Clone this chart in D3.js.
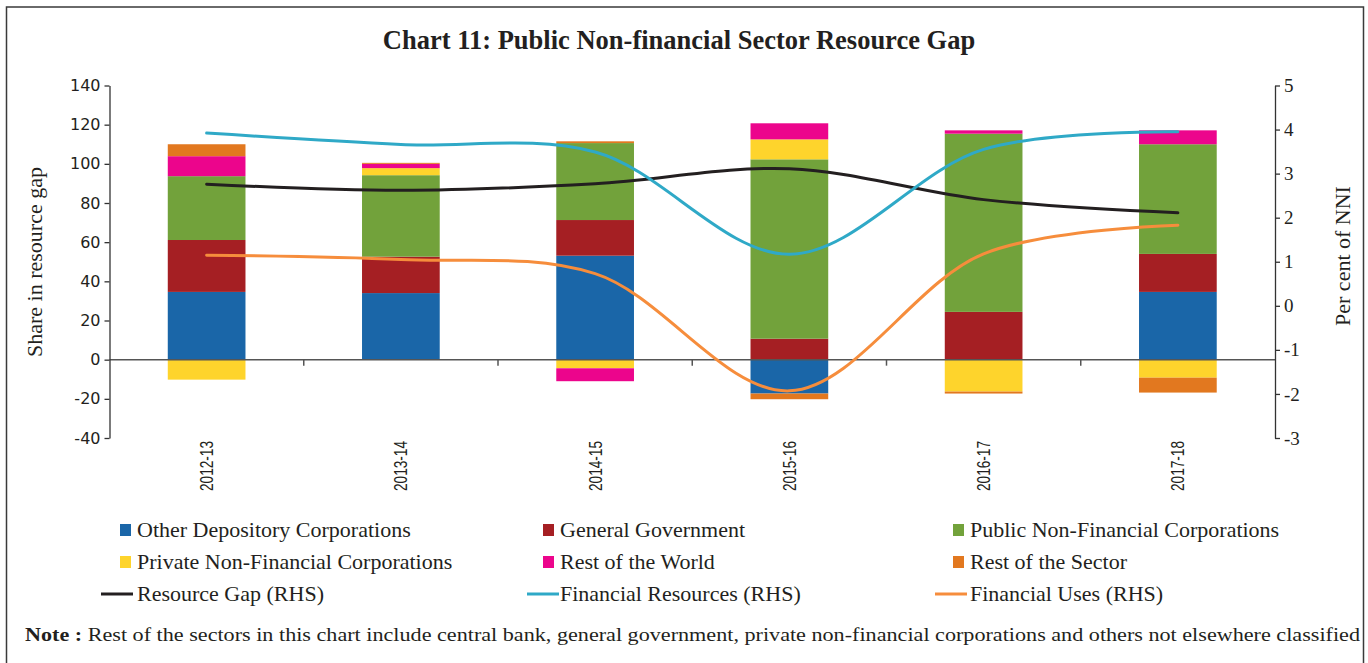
<!DOCTYPE html>
<html>
<head>
<meta charset="utf-8">
<script src="https://cdn.jsdelivr.net/npm/d3@7"></script>
<style>
  body { margin: 0; background: #fff; }
  svg { display: block; }
</style>
</head>
<body>
<svg id="chart"></svg>
<script>
const years = ["2012-13", "2013-14", "2014-15", "2015-16", "2016-17", "2017-18"];

// bar shares (LHS, per cent of resource gap)
const otherDepository = [34.6, 34.0, 53.1, -17.3, 0, 34.6];
const generalGovt = [26.5, 18.6, 18.2, 10.7, 24.4, 19.4];
const publicNFC = [32.6, 41.6, 39.3, 91.6, 91.0, 56.0];
const privateNFC = [-10.2, 3.6, -4.4, 10.2, -16.3, -9.2];
const restOfWorld = [10.2, 2.2, -6.6, 8.2, 1.7, 7.1];
const restOfSector = [6.1, 0.5, 0.9, -2.9, -1.0, -7.6];

// lines (RHS, per cent of NNI)
const resourceGap = [2.76, 2.62, 2.77, 3.11, 2.41, 2.11];
const financialResources = [3.92, 3.66, 3.49, 1.17, 3.55, 3.95];
const financialUses = [1.15, 1.05, 0.73, -1.93, 1.18, 1.83];

const leftTicks = [-40, -20, 0, 20, 40, 60, 80, 100, 120, 140];
const rightTicks = [-3, -2, -1, 0, 1, 2, 3, 4, 5];

const barSeries = [
  { key: "Other Depository Corporations", values: otherDepository, color: "#1a66a8" },
  { key: "General Government", values: generalGovt, color: "#a51f23" },
  { key: "Public Non-Financial Corporations", values: publicNFC, color: "#72a23b" },
  { key: "Private Non-Financial Corporations", values: privateNFC, color: "#fed42c" },
  { key: "Rest of the World", values: restOfWorld, color: "#ec058c" },
  { key: "Rest of the Sector", values: restOfSector, color: "#e2781f" },
];
const lineSeries = [
  { key: "Resource Gap (RHS)", values: resourceGap, color: "#231f20" },
  { key: "Financial Resources (RHS)", values: financialResources, color: "#2fa9c7" },
  { key: "Financial Uses (RHS)", values: financialUses, color: "#f68d3c" },
];

const W = 1368, H = 663;
const serif = "'Liberation Serif', 'Times New Roman', serif";
const sans = "'DejaVu Sans', Verdana, sans-serif";
const ink = "#231f20";

const svg = d3.select("#chart").attr("width", W).attr("height", H);

// frame
svg.append("path")
  .attr("d", `M6.5,${H} V7 H1363.5 V${H}`)
  .attr("fill", "none")
  .attr("stroke", "#3a3a3a")
  .attr("stroke-width", 1.5);

svg.append("text")
  .attr("x", 679)
  .attr("y", 49)
  .attr("text-anchor", "middle")
  .style("font-family", serif)
  .style("font-weight", "bold")
  .style("font-size", "26.5px")
  .attr("fill", ink)
  .text("Chart 11: Public Non-financial Sector Resource Gap");

const plotLeft = 109.5, plotRight = 1275, plotTop = 85.5, plotBottom = 438;

const x = d3.scaleBand()
  .domain(years)
  .range([plotLeft, plotRight])
  .paddingInner(0.6)
  .paddingOuter(0.3);

const y = d3.scaleLinear().domain([-40, 140]).range([plotBottom, plotTop]);
const y2 = d3.scaleLinear().domain([-3, 5]).range([plotBottom, plotTop]);

// stacked bars
const rows = years.map((yr, i) => {
  const r = { year: yr };
  barSeries.forEach(s => { r[s.key] = s.values[i]; });
  return r;
});
const stacked = d3.stack()
  .keys(barSeries.map(s => s.key))
  .offset(d3.stackOffsetDiverging)(rows);

svg.append("g")
  .selectAll("g")
  .data(stacked)
  .join("g")
  .attr("fill", (d, i) => barSeries[i].color)
  .selectAll("rect")
  .data(d => d)
  .join("rect")
  .attr("x", d => x(d.data.year))
  .attr("width", x.bandwidth())
  .attr("y", d => y(Math.max(d[0], d[1])))
  .attr("height", d => Math.abs(y(d[0]) - y(d[1])));

// zero line + category ticks
svg.append("line")
  .attr("x1", plotLeft).attr("x2", plotRight)
  .attr("y1", y(0)).attr("y2", y(0))
  .attr("stroke", "#555").attr("stroke-width", 1.5);

svg.append("g")
  .selectAll("line")
  .data(years.slice(1))
  .join("line")
  .attr("x1", d => x(d) - x.step() * x.paddingInner() / 2)
  .attr("x2", d => x(d) - x.step() * x.paddingInner() / 2)
  .attr("y1", y(0)).attr("y2", y(0) + 6)
  .attr("stroke", "#555").attr("stroke-width", 1.5);

// category labels
svg.append("g")
  .selectAll("text")
  .data(years)
  .join("text")
  .attr("transform", d => `translate(${x(d) + x.bandwidth() / 2 + 6.5},${plotBottom + 3}) rotate(-90)`)
  .attr("text-anchor", "end")
  .attr("textLength", 50)
  .attr("lengthAdjust", "spacingAndGlyphs")
  .style("font-family", "'Liberation Sans', Arial, sans-serif")
  .style("font-size", "18px")
  .attr("fill", ink)
  .text(d => d);

const fmt = d => String(d);

// left axis
const axL = svg.append("g")
  .attr("transform", `translate(${plotLeft},0)`)
  .call(d3.axisLeft(y).tickValues(leftTicks).tickFormat(fmt).tickSize(5).tickSizeOuter(0).tickPadding(4));
axL.select(".domain").attr("stroke", "#333").attr("stroke-width", 1.3);
axL.selectAll(".tick line").attr("stroke", "#333").attr("stroke-width", 1.3);
axL.selectAll("text")
  .style("font-family", sans).style("font-size", "16px").attr("fill", ink);

// right axis
const axR = svg.append("g")
  .attr("transform", `translate(${plotRight},0)`)
  .call(d3.axisRight(y2).tickValues(rightTicks).tickFormat(fmt).tickSize(5).tickSizeOuter(0).tickPadding(4));
axR.select(".domain").attr("stroke", "#333").attr("stroke-width", 1.3);
axR.selectAll(".tick line").attr("stroke", "#333").attr("stroke-width", 1.3);
axR.selectAll("text")
  .style("font-family", serif).style("font-size", "19px").attr("fill", ink);

svg.append("text")
  .attr("transform", `translate(42,262) rotate(-90)`)
  .attr("text-anchor", "middle")
  .style("font-family", serif).style("font-size", "22px")
  .attr("fill", ink)
  .text("Share in resource gap");

svg.append("text")
  .attr("transform", `translate(1350,256) rotate(-90)`)
  .attr("text-anchor", "middle")
  .style("font-family", serif).style("font-size", "22px")
  .attr("fill", ink)
  .text("Per cent of NNI");

// smoothed lines
const line = d3.line()
  .x((d, i) => x(years[i]) + x.bandwidth() / 2)
  .y(d => y2(d))
  .curve(d3.curveCatmullRom.alpha(0.5));

svg.append("g")
  .selectAll("path")
  .data(lineSeries)
  .join("path")
  .attr("d", d => line(d.values))
  .attr("fill", "none")
  .attr("stroke", d => d.color)
  .attr("stroke-width", 3)
  .attr("stroke-linecap", "round");

// legend
const colX = [120, 543, 953];
const rowY = [530, 562, 594];
const legend = svg.append("g");

barSeries.forEach((s, i) => {
  const cx = colX[i % 3], cy = rowY[Math.floor(i / 3)];
  legend.append("rect")
    .attr("x", cx).attr("y", cy - 6)
    .attr("width", 11).attr("height", 12)
    .attr("fill", s.color);
  legend.append("text")
    .attr("x", cx + 17).attr("y", cy + 7)
    .style("font-family", serif).style("font-size", "22px")
    .attr("fill", ink)
    .text(s.key);
});

const lineLegX = [101, 527, 935];
lineSeries.forEach((s, i) => {
  const lx = lineLegX[i], cy = rowY[2];
  legend.append("line")
    .attr("x1", lx).attr("x2", lx + 32)
    .attr("y1", cy).attr("y2", cy)
    .attr("stroke", s.color).attr("stroke-width", 3);
  legend.append("text")
    .attr("x", colX[i] + 17).attr("y", cy + 7)
    .style("font-family", serif).style("font-size", "22px")
    .attr("fill", ink)
    .text(s.key);
});

// note
const note = svg.append("text")
  .attr("x", 25).attr("y", 641)
  .attr("textLength", 1335)
  .attr("lengthAdjust", "spacingAndGlyphs")
  .style("font-family", serif).style("font-size", "19px")
  .attr("fill", ink);
note.append("tspan").style("font-weight", "bold").text("Note :");
note.append("tspan").text(" Rest of the sectors in this chart include central bank, general government, private non-financial corporations and others not elsewhere classified");
</script>
</body>
</html>
